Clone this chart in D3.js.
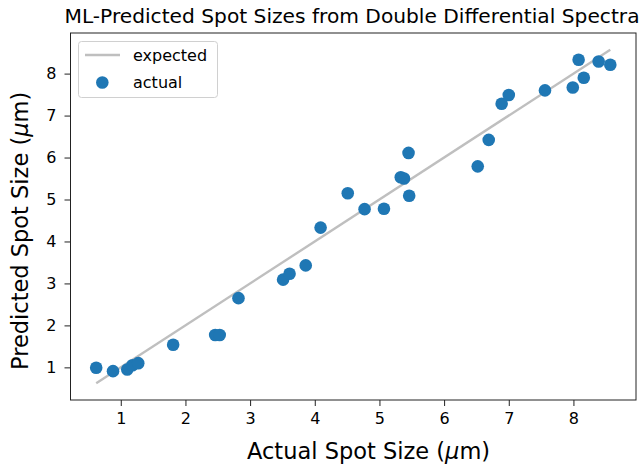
<!DOCTYPE html>
<html>
<head>
<meta charset="utf-8">
<script src="https://cdn.jsdelivr.net/npm/d3@7"></script>
<style>
  body { margin: 0; background: #fff; }
  text { font-family: "DejaVu Sans", sans-serif; fill: #000; }
</style>
</head>
<body>
<svg id="chart"></svg>
<script>
//-------------------------------------------------
// Data
//-------------------------------------------------
var actualSize = [0.62, 0.88, 1.10, 1.18, 1.27, 1.81, 2.46, 2.53, 2.82, 3.51,
                  3.61, 3.86, 4.09, 4.51, 4.77, 5.07, 5.33, 5.38, 5.45, 5.46,
                  6.52, 6.69, 6.89, 7.00, 7.56, 7.99, 8.08, 8.16, 8.39, 8.57];
var predictedSize = [0.99, 0.91, 0.95, 1.05, 1.10, 1.54, 1.77, 1.77, 2.65, 3.09,
                     3.23, 3.43, 4.33, 5.15, 4.77, 4.78, 5.53, 5.50, 6.11, 5.09,
                     5.79, 6.42, 7.28, 7.49, 7.60, 7.67, 8.33, 7.90, 8.29, 8.21];
var expectedLine = [0.62, 8.57];   // y = x
var tickValues = [1, 2, 3, 4, 5, 6, 7, 8];
//-------------------------------------------------

var width = 641, height = 468;
var margin = {top: 33, right: 5, bottom: 68, left: 70.5};
var blue = "#1f77b4";

var svg = d3.select("#chart")
  .attr("width", width)
  .attr("height", height);

// 5% padding like matplotlib autoscale
var lo = expectedLine[0], hi = expectedLine[1];
var pad = (hi - lo) * 0.05;

var x = d3.scaleLinear()
  .domain([lo - pad, hi + pad])
  .range([margin.left, width - margin.right]);

var y = d3.scaleLinear()
  .domain([lo - pad, hi + pad])
  .range([height - margin.bottom, margin.top]);

// axes
var xAxis = svg.append("g")
  .attr("transform", "translate(0," + (height - margin.bottom) + ")")
  .call(d3.axisBottom(x).tickValues(tickValues).tickSize(6).tickPadding(7));

var yAxis = svg.append("g")
  .attr("transform", "translate(" + margin.left + ",0)")
  .call(d3.axisLeft(y).tickValues(tickValues).tickSize(6).tickPadding(8));

[xAxis, yAxis].forEach(function(a) {
  a.select(".domain").remove();
  a.selectAll("line").attr("stroke", "#222").attr("stroke-width", 1);
  a.selectAll("text").style("font-size", "16px").attr("fill", "#000");
});

// frame
svg.append("rect")
  .attr("x", margin.left)
  .attr("y", margin.top)
  .attr("width", width - margin.right - margin.left)
  .attr("height", height - margin.bottom - margin.top)
  .attr("fill", "none")
  .attr("stroke", "#222")
  .attr("stroke-width", 1);

// expected line
svg.append("line")
  .attr("x1", x(expectedLine[0])).attr("y1", y(expectedLine[0]))
  .attr("x2", x(expectedLine[1])).attr("y2", y(expectedLine[1]))
  .attr("stroke", "#bfbfbf")
  .attr("stroke-width", 2.4);

// points
svg.selectAll(".dots")
  .data(actualSize)
  .enter()
  .append("circle")
  .attr("class", "dots")
  .attr("cx", function(d) { return x(d); })
  .attr("cy", function(d, i) { return y(predictedSize[i]); })
  .attr("r", 6.3)
  .attr("fill", blue);

// title
svg.append("text")
  .attr("x", 352)
  .attr("y", 23)
  .attr("text-anchor", "middle")
  .style("font-size", "20.2px")
  .text("ML-Predicted Spot Sizes from Double Differential Spectra");

// axis labels
var xl = svg.append("text")
  .attr("x", 247)
  .attr("y", 459)
  .style("font-size", "22.5px");
xl.append("tspan").text("Actual Spot Size (");
xl.append("tspan").style("font-style", "italic").text("\u03bc");
xl.append("tspan").text("m)");

var yl = svg.append("text")
  .attr("transform", "translate(28,370) rotate(-90)")
  .style("font-size", "22.5px");
yl.append("tspan").text("Predicted Spot Size (");
yl.append("tspan").style("font-style", "italic").text("\u03bc");
yl.append("tspan").text("m)");

// legend
var key = svg.append("g").attr("class", "legend");
key.append("rect")
  .attr("x", 78.5).attr("y", 41.5)
  .attr("width", 139).attr("height", 56)
  .attr("rx", 3)
  .attr("fill", "#fff").attr("fill-opacity", 0.8)
  .attr("stroke", "#d0d0d0");
key.append("line")
  .attr("x1", 85).attr("x2", 120)
  .attr("y1", 55).attr("y2", 55)
  .attr("stroke", "#bfbfbf").attr("stroke-width", 2.4);
key.append("text").attr("x", 133).attr("y", 61)
  .style("font-size", "16px").text("expected");
key.append("circle").attr("cx", 102.3).attr("cy", 82.5).attr("r", 6.3).attr("fill", blue);
key.append("text").attr("x", 133).attr("y", 88)
  .style("font-size", "16px").text("actual");
</script>
</body>
</html>
